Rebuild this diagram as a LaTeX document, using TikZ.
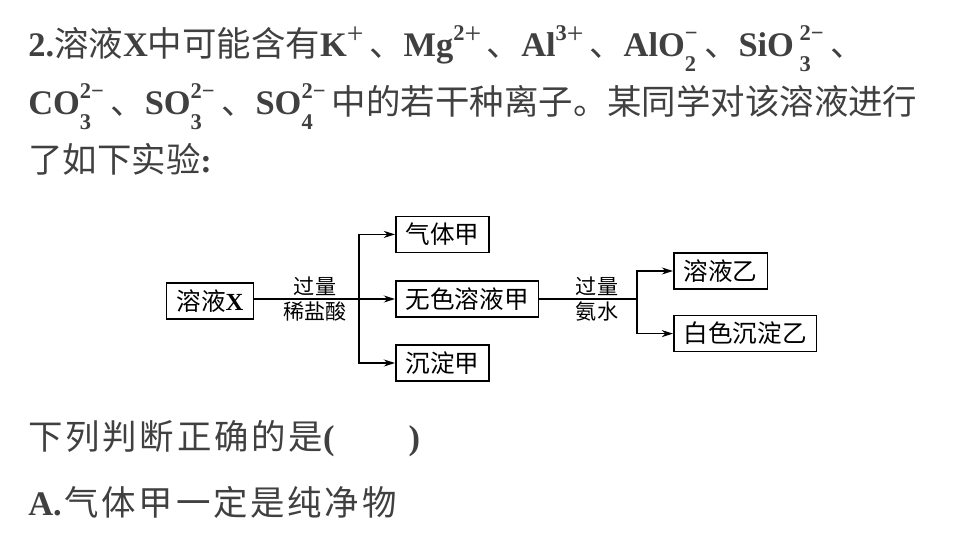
\documentclass[tikz,border=0pt]{standalone}
\usepackage{fontspec}
\setmainfont{Noto Sans CJK SC}
\newfontfamily\tnr{Liberation Serif}
\usetikzlibrary{positioning,arrows.meta}

\definecolor{textgray}{RGB}{64,64,64}
% bold serif latin bits
\newcommand{\lat}[1]{{\tnr\bfseries #1}}
\newcommand{\scr}{\tnr\bfseries\fontsize{16}{16}\selectfont}
\newcommand{\plus}{{\tnr\fontsize{21}{21}\selectfont +}}
% cation: symbol, charge digit
\newcommand{\chg}[2]{\lat{#1}\raisebox{0.9ex}{\scr #2}\raisebox{0.7ex}{\plus}\kern4pt}
% anion: [gap]{symbol}{sub}{sup}
\newcommand{\ionx}[4][0pt]{\lat{#2}\kern#1\makebox[0pt][l]{\raisebox{-0.75ex}{\scr #3}}\raisebox{0.9ex}{\scr #4}\kern4.5pt}

\tikzset{
  stage/.style={draw, line width=1.1pt, minimum height=0.9cm, inner xsep=7pt,
    font=\fontsize{17.5}{17.5}\selectfont},
  flow/.style={-{Stealth[length=8pt,width=5pt]}, line width=0.8pt},
  reagent/.style={inner sep=2pt, font=\fontsize{15}{15}\selectfont},
  qline/.style={anchor=base west, inner sep=0pt, text=textgray,
    font=\fontsize{24.5}{30}\selectfont}
}

\begin{document}
\begin{tikzpicture}
    \useasboundingbox (0,0) rectangle (24,13.5);

    % Question text
    \node[qline] (q1) at (0.7, 12.075) {\lat{2.}溶液\lat{X}中可能含有\chg{K}{}、\chg{Mg}{2}、\chg{Al}{3}、\ionx{AlO}{2}{−}、\ionx[4pt]{SiO}{3}{2−}、};
    \node[qline] (q2) at (0.7, 10.625) {\ionx{CO}{3}{2−}、\ionx{SO}{3}{2−}、\ionx{SO}{4}{2−}中的若干种离子。某同学对该溶液进行};
    \node[qline] (q3) at (0.7, 9.2) {了如下实验\lat{:}};

    % Stages of the experiment
    \node[stage] (solX) at (5.25, 5.975) {溶液\lat{X}};
    \node[stage, anchor=west] (gasA) at (9.875, 7.64) {气体甲};
    \node[stage, anchor=west] (solA) at (9.875, 6.025) {无色溶液甲};
    \node[stage, anchor=west] (pptA) at (9.875, 4.425) {沉淀甲};
    \node[stage, anchor=west] (solB) at (16.825, 6.725) {溶液乙};
    \node[stage, anchor=west] (pptB) at (16.825, 5.16) {白色沉淀乙};

    % Branch points
    \coordinate (fork1) at (8.975, 6.025);
    \coordinate (fork2) at (15.925, 6.025);

    % Reagents
    \node[reagent, above] (acidTop) at (7.875, 6.025) {过量};
    \node[reagent, below] (acidBot) at (7.875, 6.025) {稀盐酸};
    \node[reagent, above] (ammTop) at (14.925, 6.025) {过量};
    \node[reagent, below] (ammBot) at (14.925, 6.025) {氨水};

    % Connectors
    \draw[flow] (solX.east |- solA) -- (solA);
    \draw[flow] (fork1) |- (gasA);
    \draw[flow] (fork1) |- (pptA);
    \draw[line width=0.8pt] (solA) -- (fork2);
    \draw[flow] (fork2) |- (solB);
    \draw[flow] (fork2) |- (pptB);

    % Options
    \node[qline] (q4) at (0.7, 2.275) {{\addfontfeatures{LetterSpace=8}下列判断正确的是}\lat{(}\hspace{1.85cm}\lat{)}};
    \node[qline] (q5) at (0.7, 0.625) {\lat{A.}\kern2pt{\addfontfeatures{LetterSpace=8}气体甲一定是纯净物}};
\end{tikzpicture}
\end{document}
